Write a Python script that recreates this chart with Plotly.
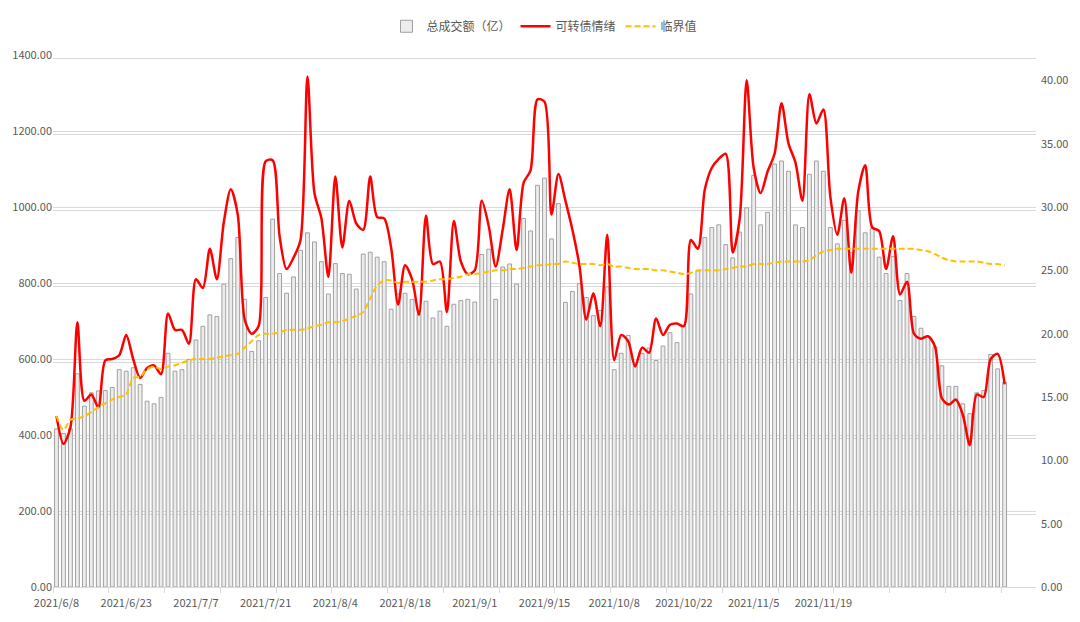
import numpy as np
import pandas as pd
import plotly.graph_objects as go

# ---------------- data ----------------
HOLIDAYS = ["2021-06-14", "2021-09-20", "2021-09-21", "2021-10-01",
            "2021-10-04", "2021-10-05", "2021-10-06", "2021-10-07"]
_days = [d for d in pd.bdate_range("2021-06-08", "2021-12-27")
         if d.strftime("%Y-%m-%d") not in HOLIDAYS]
DATES = [f"{d.year}/{d.month}/{d.day}" for d in _days]

TICK_LABELS = ["2021/6/8", "2021/6/23", "2021/7/7", "2021/7/21", "2021/8/4",
               "2021/8/18", "2021/9/1", "2021/9/15", "2021/10/8", "2021/10/22",
               "2021/11/5", "2021/11/19"]

TURNOVER = [
    416, 404, 416, 561, 476, 511, 516, 517, 525, 572,
    568, 577, 533, 489, 482, 499, 615, 568, 572, 599,
    650, 686, 716, 712, 797, 864, 920, 757, 620, 648,
    762, 968, 825, 773, 816, 886, 932, 908, 856, 771,
    851, 825, 823, 784, 876, 881, 868, 856, 731, 771,
    773, 757, 719, 752, 708, 726, 686, 744, 754, 757,
    750, 875, 889, 757, 842, 850, 797, 970, 937, 1057,
    1076, 916, 1009, 749, 778, 799, 762, 714, 728, 790,
    572, 615, 662, 587, 615, 629, 596, 634, 669, 643,
    686, 771, 832, 920, 946, 953, 901, 866, 934, 998,
    1083, 953, 986, 1113, 1121, 1094, 953, 946, 1086, 1121,
    1094, 946, 903, 965, 880, 990, 932, 943, 868, 825,
    870, 754, 825, 712, 681, 659, 632, 582, 528, 528,
    482, 456, 511, 517, 612, 574, 539,
]

SENTIMENT = [
    13.5, 11.3, 12.6, 20.9, 14.7, 15.2, 14.2, 17.9, 18.0, 18.3,
    19.9, 18.0, 16.5, 17.3, 17.5, 16.8, 21.6, 20.3, 20.3, 19.2,
    24.3, 23.6, 26.7, 24.3, 28.8, 31.4, 29.4, 21.1, 20.0, 20.6,
    33.6, 33.7, 27.7, 25.1, 26.0, 27.4, 40.3, 31.1, 29.1, 24.5,
    32.4, 26.8, 30.5, 28.7, 28.2, 32.4, 29.2, 29.1, 26.8, 22.3,
    25.4, 24.3, 21.5, 29.3, 25.5, 25.7, 21.7, 28.9, 25.7, 24.7,
    25.0, 30.5, 28.5, 25.3, 28.2, 31.4, 26.6, 31.9, 32.9, 38.5,
    38.3, 29.4, 32.6, 30.5, 28.2, 25.4, 21.1, 23.2, 20.6, 27.8,
    17.9, 19.9, 19.4, 17.4, 18.9, 18.5, 21.2, 19.9, 20.7, 20.8,
    20.6, 27.4, 26.7, 31.4, 33.1, 33.8, 34.2, 26.4, 29.1, 40.0,
    33.1, 31.1, 32.8, 34.2, 38.2, 35.0, 33.5, 30.5, 38.9, 36.6,
    37.7, 30.8, 27.8, 30.7, 24.8, 31.2, 33.3, 28.4, 28.1, 25.1,
    27.7, 23.1, 24.1, 20.0, 19.6, 19.8, 19.0, 14.9, 14.4, 14.8,
    13.6, 11.2, 15.2, 15.0, 18.0, 18.4, 16.0,
]

THRESHOLD = [
    13.5, 12.4, 13.2, 13.3, 13.5, 13.8, 14.2, 14.5, 14.8, 15.0,
    15.2, 16.5, 16.6, 17.2, 17.4, 17.2, 17.4, 17.5, 17.7, 17.9,
    18.0, 18.0, 18.0, 18.1, 18.2, 18.3, 18.4, 18.9, 19.4, 19.9,
    20.0, 20.0, 20.1, 20.3, 20.3, 20.3, 20.4, 20.6, 20.7, 20.9,
    20.9, 21.0, 21.2, 21.4, 21.7, 22.8, 23.8, 24.2, 24.2, 24.0,
    24.1, 24.1, 24.1, 24.1, 24.2, 24.3, 24.3, 24.4, 24.5, 24.7,
    24.7, 24.8, 24.9, 25.0, 25.0, 25.1, 25.1, 25.2, 25.3, 25.4,
    25.4, 25.5, 25.5, 25.7, 25.6, 25.5, 25.5, 25.5, 25.4, 25.5,
    25.3, 25.3, 25.2, 25.1, 25.1, 25.1, 25.0, 25.0, 24.9, 24.8,
    24.7, 24.8, 25.0, 25.0, 25.0, 25.0, 25.1, 25.2, 25.3, 25.3,
    25.5, 25.5, 25.5, 25.6, 25.7, 25.7, 25.7, 25.7, 25.8, 26.2,
    26.5, 26.6, 26.7, 26.7, 26.7, 26.7, 26.7, 26.7, 26.7, 26.7,
    26.7, 26.7, 26.7, 26.7, 26.6, 26.5, 26.3, 26.0, 25.8, 25.7,
    25.7, 25.7, 25.7, 25.6, 25.5, 25.5, 25.4,
]

N_SLOTS = 141          # category slots on the axis (a few trailing ones empty)
TICK_EVERY = 8         # tick marks every 8 categories (on boundaries)

# ---------------- figure ----------------
FONT = "Noto Sans CJK SC, Microsoft YaHei, sans-serif"
TXT = "#595959"
GRID = "#d9d9d9"

fig = go.Figure()
fig.add_trace(go.Bar(
    x=DATES, y=TURNOVER, name="总成交额（亿）",
    marker=dict(color="#ececec", line=dict(color="#a0a0a0", width=1)),
    yaxis="y",
))
fig.add_trace(go.Scatter(
    x=DATES, y=SENTIMENT, name="可转债情绪", mode="lines",
    line=dict(color="#ff0000", width=2.5, shape="spline", smoothing=0.8),
    yaxis="y2",
))
fig.add_trace(go.Scatter(
    x=DATES, y=THRESHOLD, name="临界值", mode="lines",
    line=dict(color="#ffc000", width=2, dash="6px,3px", shape="spline", smoothing=0.8),
    yaxis="y2",
))
# empty helper traces so the overlay axes (tick marks / second grid line) are drawn
fig.add_trace(go.Scatter(x=[], y=[], xaxis="x2", yaxis="y", showlegend=False,
                         hoverinfo="skip"))
fig.add_trace(go.Scatter(x=[], y=[], xaxis="x", yaxis="y3", showlegend=False,
                         hoverinfo="skip"))

x_range = [-0.5, N_SLOTS - 0.5]
fig.update_layout(
    width=1080, height=622,
    margin=dict(l=52, r=41, t=48, b=35),
    paper_bgcolor="white", plot_bgcolor="white",
    font=dict(family=FONT, size=11, color=TXT),
    bargap=0.45,
    showlegend=True,
    legend=dict(orientation="h", x=0.5, xanchor="center", y=1.054, yanchor="middle",
                font=dict(size=12, color=TXT), itemwidth=30, traceorder="normal"),
    xaxis=dict(type="category", range=x_range, tickmode="array",
               tickvals=TICK_LABELS, ticktext=TICK_LABELS, ticks="",
               showgrid=False, showline=True, linecolor=GRID, linewidth=1,
               tickangle=0, ticklabelstandoff=6, tickfont=dict(size=11, color=TXT)),
    xaxis2=dict(overlaying="x", anchor="y", range=x_range, type="linear",
                tickmode="array",
                tickvals=list(np.arange(-0.5, N_SLOTS - 0.5, TICK_EVERY)),
                ticks="outside", ticklen=5, tickcolor=GRID, tickwidth=1,
                showticklabels=False, showgrid=False, showline=False, zeroline=False,
                side="bottom"),
    yaxis=dict(range=[0, 1400], dtick=200, tickformat=".2f", showgrid=True,
               gridcolor=GRID, gridwidth=1, zeroline=False, showline=False,
               tickfont=dict(size=11, color=TXT)),
    yaxis3=dict(overlaying="y", anchor="x", range=[8, 1408], tickmode="array",
                tickvals=[200, 400, 600, 800, 1000, 1200, 1400],
                showticklabels=False, showgrid=True, gridcolor=GRID, gridwidth=1,
                zeroline=False, showline=False),
    yaxis2=dict(overlaying="y", side="right", anchor="x", range=[0, 42], dtick=5,
                tickformat=".2f", showgrid=False, zeroline=False, showline=False,
                ticklabelstandoff=4, tickfont=dict(size=11, color=TXT)),
)

fig.write_html("out.html")
